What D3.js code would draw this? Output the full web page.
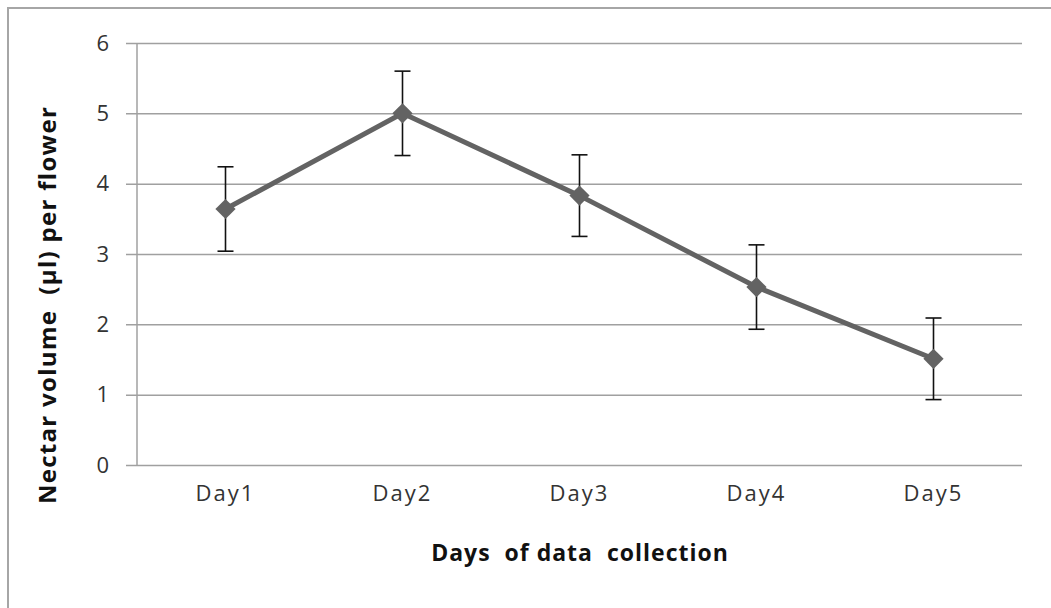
<!DOCTYPE html>
<html>
<head>
<meta charset="utf-8">
<script src="https://cdn.jsdelivr.net/npm/d3@7"></script>
<style>
  body { margin: 0; background: #fff; }
  text { font-family: "Open Sans", "Liberation Sans", sans-serif; }
</style>
</head>
<body>
<svg id="chart" width="1051" height="608"></svg>
<script>
const days = ["Day1", "Day2", "Day3", "Day4", "Day5"];
const nectar = [3.64, 5.0, 3.83, 2.53, 1.51];
const errors = [0.6, 0.6, 0.58, 0.6, 0.58];
const yTicks = [0, 1, 2, 3, 4, 5, 6];

const svg = d3.select('#chart');
const margin = { left: 137, right: 29, top: 43, bottom: 143 };
const width = 1051 - margin.left - margin.right;
const height = 608 - margin.top - margin.bottom;

// outer chart frame
svg.append('rect')
  .attr('x', 8).attr('y', 8)
  .attr('width', 1060).attr('height', 620)
  .attr('fill', 'none')
  .attr('stroke', '#a6a6a6')
  .attr('stroke-width', 2);

const g = svg.append('g').attr('transform', `translate(${margin.left},${margin.top})`);

const x = d3.scaleBand().domain(days).range([0, width]);
const y = d3.scaleLinear().domain([0, 6]).range([height, 0]);

// gridlines + left axis
const yAxis = g.append('g')
  .call(d3.axisLeft(y).tickValues(yTicks).tickSize(-width).tickPadding(28).tickFormat(d3.format('d')));
yAxis.select('.domain').remove();
yAxis.selectAll('.tick line')
  .attr('x1', -11)
  .attr('stroke', '#a0a0a0')
  .attr('stroke-width', 1.5);
yAxis.selectAll('.tick text')
  .attr('font-size', 22)
  .attr('fill', '#333');

g.append('line')
  .attr('x1', 0).attr('x2', 0)
  .attr('y1', 0).attr('y2', height)
  .attr('stroke', '#a0a0a0')
  .attr('stroke-width', 1.5);

// x labels
const xAxis = g.append('g')
  .attr('transform', `translate(0,${height})`)
  .call(d3.axisBottom(x).tickSize(0).tickPadding(20));
xAxis.select('.domain').remove();
xAxis.selectAll('.tick text')
  .attr('font-size', 22)
  .attr('letter-spacing', 2)
  .attr('fill', '#333');

const cx = d => x(d) + x.bandwidth() / 2;

// error bars
const eb = g.append('g');
days.forEach((d, i) => {
  const top = y(nectar[i] + errors[i]);
  const bot = y(nectar[i] - errors[i]);
  eb.append('line').attr('x1', cx(d)).attr('x2', cx(d)).attr('y1', top).attr('y2', bot);
  eb.append('line').attr('x1', cx(d) - 8).attr('x2', cx(d) + 8).attr('y1', top).attr('y2', top);
  eb.append('line').attr('x1', cx(d) - 8).attr('x2', cx(d) + 8).attr('y1', bot).attr('y2', bot);
});
eb.selectAll('line').attr('stroke', '#111').attr('stroke-width', 1.6);

// series line
const line = d3.line().x((v, i) => cx(days[i])).y(v => y(v));
g.append('path')
  .datum(nectar)
  .attr('d', line)
  .attr('fill', 'none')
  .attr('stroke', '#636363')
  .attr('stroke-width', 5);

// diamond markers
g.selectAll('.marker')
  .data(nectar)
  .enter().append('path')
  .attr('class', 'marker')
  .attr('d', d3.symbol().type(d3.symbolDiamond2).size(260))
  .attr('transform', (v, i) => `translate(${cx(days[i])},${y(v)})`)
  .attr('fill', '#636363');

// axis titles
svg.append('text')
  .attr('x', 580).attr('y', 561)
  .attr('text-anchor', 'middle')
  .attr('font-size', 23)
  .attr('font-weight', 'bold')
  .attr('letter-spacing', 1)
  .attr('fill', '#111')
  .attr('xml:space', 'preserve')
  .text('Days  of data  collection');

svg.append('text')
  .attr('transform', 'translate(56,305) rotate(-90)')
  .attr('text-anchor', 'middle')
  .attr('font-size', 24)
  .attr('font-weight', 'bold')
  .attr('letter-spacing', 1.3)
  .attr('fill', '#111')
  .attr('xml:space', 'preserve')
  .text('Nectar volume  (µl) per flower');
</script>
</body>
</html>
